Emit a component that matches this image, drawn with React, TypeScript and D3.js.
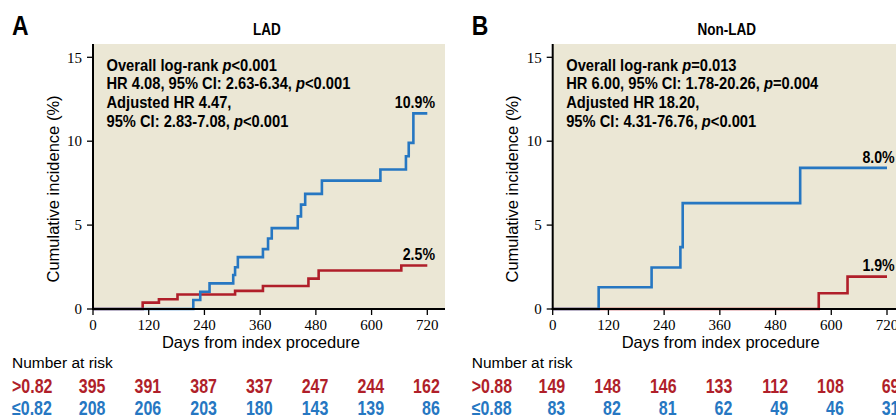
import React from "react";
import * as d3 from "d3";

// ---------- data ----------
const xTicks = [0, 120, 240, 360, 480, 600, 720];
const yTicks = [0, 5, 10, 15];

// Panel A (LAD)
const lowDaysA = [216, 231, 251, 302, 306, 312, 366, 377, 385, 441, 448, 457, 493, 619, 674, 680, 690];
const lowValsA = [0.54, 1.03, 1.53, 2.03, 2.49, 3.09, 3.57, 4.2, 4.82, 5.52, 6.22, 6.86, 7.65, 8.31, 9.1, 9.9, 11.66];
const highDaysA = [107, 142, 182, 306, 366, 464, 486, 664];
const highValsA = [0.38, 0.58, 0.86, 1.08, 1.37, 1.81, 2.29, 2.59];
const riskHighA = [395, 391, 387, 337, 247, 244, 162];
const riskLowA = [208, 206, 203, 180, 143, 139, 86];

// Panel B (Non-LAD)
const lowDaysB = [99, 213, 275, 280, 533];
const lowValsB = [1.3, 2.47, 3.69, 6.31, 8.41];
const highDaysB = [573, 635];
const highValsB = [0.94, 1.93];
const riskHighB = [149, 148, 146, 133, 112, 108, 69];
const riskLowB = [83, 82, 81, 62, 49, 46, 31];

const BLUE = "#2677c2";
const RED = "#b01f2a";
const BG = "#ebe7d5";

const SANS = "'Liberation Sans',Arial,sans-serif";
const SERIF = "'Liberation Serif','Times New Roman',serif";

// condensed text: Liberation Sans squeezed horizontally
function NT(props: any) {
  const { x, y, sx = 0.82, children, ...rest } = props;
  return (
    <text transform={`translate(${x},${y}) scale(${sx},1)`} fontFamily={SANS} {...rest}>
      {children}
    </text>
  );
}

type PanelProps = {
  ox: number;
  letter: string;
  title: string;
  lines: React.ReactNode[];
  lowDays: number[];
  lowVals: number[];
  highDays: number[];
  highVals: number[];
  lowLabel: string;
  highLabel: string;
  lowLabelY: number;
  highLabelY: number;
  riskHigh: number[];
  riskLow: number[];
  cut: string;
};

function Panel(p: PanelProps) {
  const left = 93 + p.ox;
  const x = d3.scaleLinear().domain([0, 720]).range([left, left + 334.3]);
  const y = d3.scaleLinear().domain([0, 15]).range([309, 57.3]);
  const line = d3
    .line<[number, number]>()
    .x((d) => x(d[0]))
    .y((d) => y(d[1]))
    .curve(d3.curveStepAfter);
  const mk = (days: number[], vals: number[]): [number, number][] => {
    const pts: [number, number][] = [[0, 0]];
    days.forEach((d, i) => pts.push([d, vals[i]]));
    pts.push([720, vals[vals.length - 1]]);
    return pts;
  };
  const lowPts = mk(p.lowDays, p.lowVals);
  const highPts = mk(p.highDays, p.highVals);
  const right = left + 352;
  return (
    <g>
      <NT x={12 + p.ox} y={35} fontWeight="bold" fontSize={28}>
        {p.letter}
      </NT>
      <NT x={left + 174} y={35} textAnchor="middle" fontWeight="bold" fontSize={16.5}>
        {p.title}
      </NT>
      <rect x={left} y={44} width={352} height={265} fill={BG} />
      {p.lines.map((l, i) => (
        <NT key={i} x={left + 13.5} y={70.7 + i * 18.7} sx={0.85} fontWeight="bold" fontSize={17.3}>
          {l}
        </NT>
      ))}
      <path d={line(highPts) || ""} fill="none" stroke={RED} strokeWidth={2.6} />
      <path d={line(lowPts) || ""} fill="none" stroke={BLUE} strokeWidth={2.6} />
      <NT x={left + 342} y={p.lowLabelY} textAnchor="end" fontWeight="bold" fontSize={17.3}>
        {p.lowLabel}
      </NT>
      <NT x={left + 342} y={p.highLabelY} textAnchor="end" fontWeight="bold" fontSize={17.3}>
        {p.highLabel}
      </NT>
      {/* axes */}
      <line x1={left} x2={left} y1={44} y2={310} stroke="#000" strokeWidth={2} />
      <line x1={left - 1} x2={right} y1={309} y2={309} stroke="#000" strokeWidth={2} />
      {yTicks.map((t) => (
        <g key={"y" + t}>
          <line x1={left - 6} x2={left} y1={y(t)} y2={y(t)} stroke="#000" strokeWidth={1.3} />
          <text x={left - 11} y={y(t)} dy="0.35em" textAnchor="end" fontFamily={SERIF} fontSize={15}>
            {t}
          </text>
        </g>
      ))}
      {xTicks.map((t) => (
        <g key={"x" + t}>
          <line x1={x(t)} x2={x(t)} y1={309} y2={315} stroke="#000" strokeWidth={1.3} />
          <text x={x(t)} y={330} textAnchor="middle" fontFamily={SERIF} fontSize={15}>
            {t}
          </text>
        </g>
      ))}
      <text x={left + 168} y={348} textAnchor="middle" fontFamily={SANS} fontSize={16.5}>
        Days from index procedure
      </text>
      <text
        transform={`translate(${left - 40},189) rotate(-90)`}
        textAnchor="middle"
        dy="0.35em"
        fontFamily={SANS}
        fontSize={16.5}
      >
        Cumulative incidence (%)
      </text>
      {/* risk table */}
      <text x={12 + p.ox} y={368} fontFamily={SANS} fontSize={15.5}>
        Number at risk
      </text>
      <NT x={12 + p.ox} y={393} fill={RED} fontWeight="bold" fontSize={19.5}>
        {">" + p.cut}
      </NT>
      <NT x={12 + p.ox} y={415} fill={BLUE} fontWeight="bold" fontSize={19.5}>
        {"≤" + p.cut}
      </NT>
      {p.riskHigh.map((v, i) => (
        <NT key={"h" + i} x={x(xTicks[i]) + 12.5} y={393} textAnchor="end" fill={RED} fontWeight="bold" fontSize={19.5}>
          {v}
        </NT>
      ))}
      {p.riskLow.map((v, i) => (
        <NT key={"l" + i} x={x(xTicks[i]) + 12.5} y={415} textAnchor="end" fill={BLUE} fontWeight="bold" fontSize={19.5}>
          {v}
        </NT>
      ))}
    </g>
  );
}

const P = (s: string) => <tspan fontStyle="italic">{s}</tspan>;

export default function App() {
  return (
    <svg
      width={896}
      height={418}
      style={{ position: "absolute", left: 0, top: 0, background: "#fff" }}
    >
      <Panel
        ox={0}
        letter="A"
        title="LAD"
        lines={[
          <>Overall log-rank {P("p")}{"<0.001"}</>,
          <>HR 4.08, 95% CI: 2.63-6.34, {P("p")}{"<0.001"}</>,
          <>Adjusted HR 4.47,</>,
          <>95% CI: 2.83-7.08, {P("p")}{"<0.001"}</>,
        ]}
        lowDays={lowDaysA}
        lowVals={lowValsA}
        highDays={highDaysA}
        highVals={highValsA}
        lowLabel="10.9%"
        highLabel="2.5%"
        lowLabelY={108.3}
        highLabelY={259.5}
        riskHigh={riskHighA}
        riskLow={riskLowA}
        cut="0.82"
      />
      <Panel
        ox={459.7}
        letter="B"
        title="Non-LAD"
        lines={[
          <>Overall log-rank {P("p")}=0.013</>,
          <>HR 6.00, 95% CI: 1.78-20.26, {P("p")}=0.004</>,
          <>Adjusted HR 18.20,</>,
          <>95% CI: 4.31-76.76, {P("p")}{"<0.001"}</>,
        ]}
        lowDays={lowDaysB}
        lowVals={lowValsB}
        highDays={highDaysB}
        highVals={highValsB}
        lowLabel="8.0%"
        highLabel="1.9%"
        lowLabelY={163.3}
        highLabelY={270.7}
        riskHigh={riskHighB}
        riskLow={riskLowB}
        cut="0.88"
      />
    </svg>
  );
}
